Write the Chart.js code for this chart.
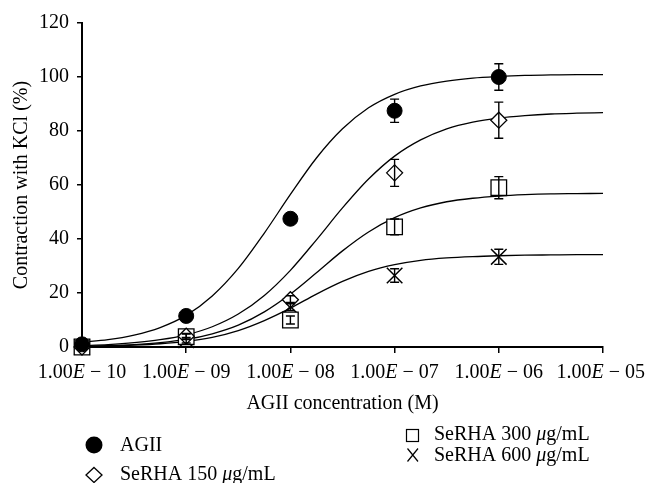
<!DOCTYPE html>
<html><head><meta charset="utf-8">
<script src="https://cdn.jsdelivr.net/npm/chart.js@4.4.1/dist/chart.umd.min.js"></script>
<style>html,body{margin:0;padding:0;background:#fff;} #c{display:block;}</style>
</head><body>
<canvas id="c" width="646" height="483"></canvas>
<script>
// measured points (log10 of molar AGII concentration)
const logConc = [-10, -9, -8, -7, -6];
const agii = [1.0, 11.5, 47.5, 87.5, 100.0];
const agiiErr = [0.5, 1.0, 1.5, 4.3, 4.9];
const serha150 = [0.0, 4.0, 17.5, 64.5, 84.0];
const serha150Err = [0.5, 1.0, 1.5, 5.0, 6.7];
const serha300 = [0.0, 3.8, 10.0, 44.5, 59.0];
const serha300Err = [0.5, 1.0, 1.5, 2.9, 4.1];
const serha600 = [0.0, 2.5, 15.0, 26.5, 33.4];
const serha600Err = [0.5, 1.0, 1.5, 2.5, 2.8];

// fitted curves
const fitLogConc = [-10, -9.75, -9.5, -9.25, -9, -8.75, -8.5, -8.25, -8, -7.75, -7.5, -7.25, -7, -6.75, -6.5, -6.25, -6, -5.75, -5.5, -5.25, -5];
const fitAgii = [1.8, 2.7, 4.4, 7.2, 11.7, 18.9, 29.1, 42.2, 56.5, 70.0, 80.8, 88.6, 93.6, 96.7, 98.5, 99.6, 100.2, 100.6, 100.8, 100.9, 100.9];
const fit150 = [0.5, 0.9, 1.6, 2.7, 4.5, 7.5, 12.2, 19.1, 28.4, 39.7, 51.5, 62.2, 70.7, 76.7, 80.8, 83.3, 84.8, 85.7, 86.3, 86.6, 86.8];
const fit300 = [0.3, 0.5, 0.9, 1.6, 2.8, 4.9, 8.1, 13.0, 19.6, 27.5, 35.6, 42.6, 47.9, 51.5, 53.8, 55.1, 55.9, 56.4, 56.7, 56.8, 56.9];
const fit600 = [0.2, 0.4, 0.7, 1.2, 2.1, 3.6, 6.1, 9.8, 14.4, 19.6, 24.3, 28.0, 30.5, 32.1, 33.0, 33.5, 33.8, 34.0, 34.1, 34.2, 34.2];

const xTickValues = [-10, -9, -8, -7, -6, -5];
const xTickLabels = ["1.00E − 10", "1.00E − 09", "1.00E − 08", "1.00E − 07", "1.00E − 06", "1.00E − 05"];
const yTickValues = [0, 20, 40, 60, 80, 100, 120];
const seriesNames = ["AGII", "SeRHA 150 μg/mL", "SeRHA 300 μg/mL", "SeRHA 600 μg/mL"];
const xTitle = "AGII concentration (M)";
const yTitle = "Contraction with KCl (%)";

const FONT = '"Liberation Serif", "Times New Roman", serif';
Chart.defaults.font.family = FONT;
Chart.defaults.color = '#000';

function pts(ys, xs) { return xs.map((x, i) => ({ x: x, y: ys[i] })); }

function drawRich(ctx, text, italicChar, x, y, align) {
  const parts = [];
  let buf = '';
  for (const ch of text) {
    if (ch === italicChar) { if (buf) parts.push({ t: buf, it: false }); parts.push({ t: ch, it: true }); buf = ''; }
    else buf += ch;
  }
  if (buf) parts.push({ t: buf, it: false });
  let total = 0;
  parts.forEach(p => { ctx.font = (p.it ? 'italic ' : '') + '20px ' + FONT; p.w = ctx.measureText(p.t).width; total += p.w; });
  let cx = x;
  if (align === 'center') cx = x - total / 2;
  if (cx + total > 645) cx = 645 - total;
  ctx.textAlign = 'left';
  parts.forEach(p => { ctx.font = (p.it ? 'italic ' : '') + '20px ' + FONT; ctx.fillText(p.t, cx, y); cx += p.w; });
}

const errSeries = [
  { v: agii, e: agiiErr }, { v: serha150, e: serha150Err },
  { v: serha300, e: serha300Err }, { v: serha600, e: serha600Err }
];

const extras = {
  id: 'extras',
  afterDatasetsDraw(chart) {
    const ctx = chart.ctx, xs = chart.scales.x, ys = chart.scales.y;
    ctx.save();
    ctx.strokeStyle = '#000'; ctx.lineWidth = 1.4;
    errSeries.forEach(s => {
      logConc.forEach((lx, i) => {
        const px = xs.getPixelForValue(lx);
        const t = ys.getPixelForValue(s.v[i] + s.e[i]);
        const b = ys.getPixelForValue(Math.max(0, s.v[i] - s.e[i]));
        ctx.beginPath();
        ctx.moveTo(px, t); ctx.lineTo(px, b);
        ctx.moveTo(px - 4.5, t); ctx.lineTo(px + 4.5, t);
        ctx.moveTo(px - 4.5, b); ctx.lineTo(px + 4.5, b);
        ctx.stroke();
      });
    });
    ctx.restore();
  },
  afterDraw(chart) {
    const ctx = chart.ctx, xs = chart.scales.x, area = chart.chartArea;
    ctx.save();
    ctx.fillStyle = '#000';
    ctx.textBaseline = 'alphabetic';
    // x tick labels
    xTickValues.forEach((v, i) => {
      drawRich(ctx, xTickLabels[i], 'E', xs.getPixelForValue(v), 378, 'center');
    });
    // x title
    ctx.font = '20px ' + FONT;
    ctx.textAlign = 'center';
    ctx.fillText(xTitle, (area.left + area.right) / 2, 409);
    // legend
    ctx.strokeStyle = '#000';
    // AGII filled circle
    ctx.beginPath(); ctx.arc(94, 445, 8.5, 0, Math.PI * 2); ctx.fill();
    drawRich(ctx, seriesNames[0], 'μ', 120, 450.5, 'left');
    // diamond
    ctx.lineWidth = 1.3;
    ctx.beginPath();
    ctx.moveTo(94, 467.5); ctx.lineTo(102, 475); ctx.lineTo(94, 482.5); ctx.lineTo(86, 475); ctx.closePath();
    ctx.stroke();
    drawRich(ctx, seriesNames[1], 'μ', 120, 480, 'left');
    // square
    ctx.lineWidth = 1.2;
    ctx.strokeRect(406.5, 429.5, 12, 12);
    drawRich(ctx, seriesNames[2], 'μ', 434, 439.5, 'left');
    // X
    ctx.beginPath();
    ctx.moveTo(407.5, 448.5); ctx.lineTo(418, 461.5);
    ctx.moveTo(418, 448.5); ctx.lineTo(407.5, 461.5);
    ctx.stroke();
    drawRich(ctx, seriesNames[3], 'μ', 434, 461, 'left');
    ctx.restore();
  }
};

function markerDs(label, ys, style, radius, bg, bw) {
  return {
    type: 'scatter', label: label, data: pts(ys, logConc), showLine: false, order: 0, clip: false,
    pointStyle: style, pointRadius: radius, pointHoverRadius: radius,
    pointBackgroundColor: bg, pointBorderColor: '#000', pointBorderWidth: bw
  };
}
function curveDs(label, ys) {
  return {
    type: 'line', label: label, data: pts(ys, fitLogConc), order: 1, showLine: true,
    borderColor: '#000', borderWidth: 1.3, pointRadius: 0, fill: false,
    cubicInterpolationMode: 'monotone'
  };
}

new Chart(document.getElementById('c'), {
  type: 'scatter',
  data: {
    datasets: [
      markerDs(seriesNames[0], agii, 'circle', 7.5, '#000', 1),
      markerDs(seriesNames[1], serha150, 'rectRot', 8, '#fff', 1.3),
      markerDs(seriesNames[2], serha300, 'rect', 11, '#fff', 1.3),
      markerDs(seriesNames[3], serha600, 'crossRot', 11, '#fff', 1.5),
      curveDs(seriesNames[0] + ' fit', fitAgii),
      curveDs(seriesNames[1] + ' fit', fit150),
      curveDs(seriesNames[2] + ' fit', fit300),
      curveDs(seriesNames[3] + ' fit', fit600)
    ]
  },
  options: {
    responsive: false,
    animation: false,
    events: [],
    layout: { padding: { top: 23, right: 43, left: 0, bottom: 0 } },
    plugins: { legend: { display: false }, tooltip: { enabled: false } },
    scales: {
      x: {
        type: 'linear', min: -10, max: -5,
        afterBuildTicks: s => { s.ticks = xTickValues.map(v => ({ value: v })); },
        afterFit: s => { s.height = 136; },
        ticks: { display: false },
        grid: { drawOnChartArea: false, drawTicks: true, tickLength: 6, color: '#000', lineWidth: 1.5 },
        border: { display: true, color: '#000', width: 2 }
      },
      y: {
        type: 'linear', min: 0, max: 120,
        afterBuildTicks: s => { s.ticks = yTickValues.map(v => ({ value: v })); },
        afterFit: s => { s.width = 82; },
        ticks: { color: '#000', font: { size: 20, family: FONT }, padding: 8 },
        grid: { drawOnChartArea: false, drawTicks: true, tickLength: 5, color: '#000', lineWidth: 1.5 },
        border: { display: true, color: '#000', width: 2 },
        title: { display: true, text: yTitle, color: '#000', font: { size: 20, family: FONT }, padding: { top: 10, bottom: 0 } }
      }
    }
  },
  plugins: [extras]
});
</script>
</body></html>
